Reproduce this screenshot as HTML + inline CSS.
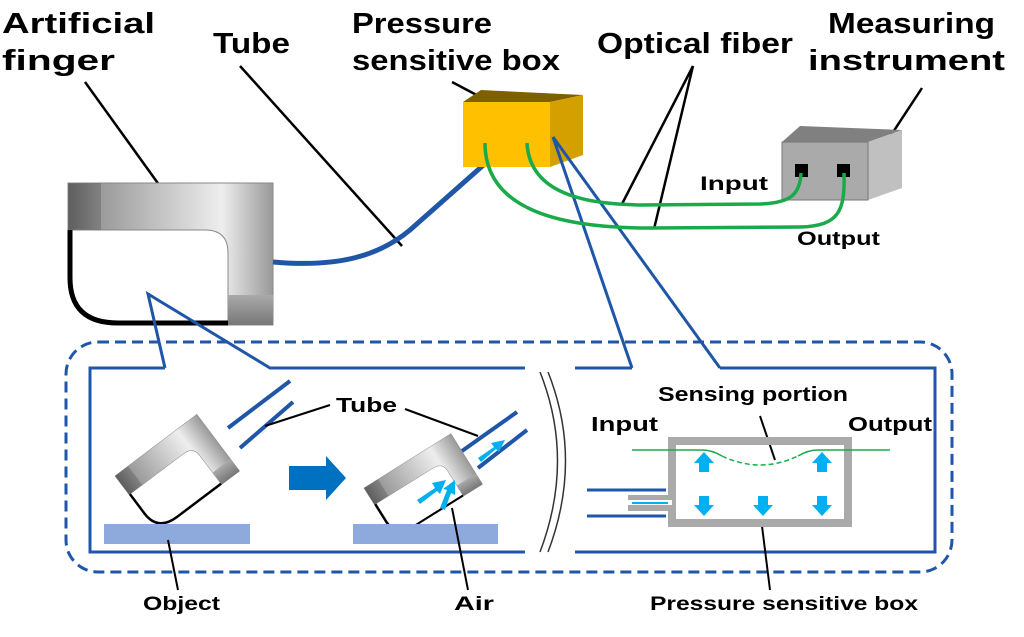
<!DOCTYPE html>
<html><head><style>
body{margin:0;background:#fff}
text{font-family:"Liberation Sans",sans-serif;font-weight:bold;fill:#000}
</style></head><body>
<svg width="1024" height="632" viewBox="0 0 1024 632" xmlns="http://www.w3.org/2000/svg">
<defs>
<linearGradient id="g1" x1="0" y1="0" x2="1" y2="0">
<stop offset="0" stop-color="#555"/><stop offset="0.15" stop-color="#999"/><stop offset="0.75" stop-color="#eee"/><stop offset="1" stop-color="#999"/></linearGradient>
<linearGradient id="g2" x1="0" y1="0" x2="0" y2="1">
<stop offset="0" stop-color="#aaa"/><stop offset="1" stop-color="#777"/></linearGradient>
<g id="finger">
<path d="M0,0 H205 V142 H160 V70 Q160,47 137,47 H0 Z" fill="url(#g1)" stroke="#888" stroke-width="1"/>
<rect x="0" y="0" width="33" height="47" fill="#666" opacity="0.5"/>
<rect x="160" y="112" width="45" height="30" fill="url(#g2)"/>
<path d="M2,47 V95 Q2,140 50,140 H160" fill="none" stroke="#000" stroke-width="5"/>
</g>
</defs>

<!-- labels top -->
<g font-size="29" lengthAdjust="spacingAndGlyphs">
<text x="2" y="33" textLength="153" lengthAdjust="spacingAndGlyphs">Artificial</text>
<text x="2" y="70" textLength="113" lengthAdjust="spacingAndGlyphs">finger</text>
<text x="213" y="53" textLength="77" lengthAdjust="spacingAndGlyphs">Tube</text>
<text x="352" y="33" textLength="140" lengthAdjust="spacingAndGlyphs">Pressure</text>
<text x="352" y="70" textLength="208" lengthAdjust="spacingAndGlyphs">sensitive box</text>
<text x="597" y="53" textLength="196" lengthAdjust="spacingAndGlyphs">Optical fiber</text>
<text x="828" y="33" textLength="167" lengthAdjust="spacingAndGlyphs">Measuring</text>
<text x="808" y="70" textLength="197" lengthAdjust="spacingAndGlyphs">instrument</text>
</g>

<g stroke="#000" stroke-width="2.5">
<line x1="85" y1="82" x2="170" y2="200"/>
<line x1="240" y1="66" x2="402" y2="246"/>
<line x1="452" y1="82" x2="505" y2="110"/>
<line x1="693" y1="66" x2="622" y2="204"/>
<line x1="693" y1="66" x2="654" y2="229"/>
<line x1="922" y1="88" x2="878" y2="155"/>
</g>

<use href="#finger" x="68" y="183"/>

<path d="M273,262 C340,268 380,255 410,230 L505,146" fill="none" stroke="#1f56a8" stroke-width="5"/>

<polygon points="463,102 481,90 583,95 550,102" fill="#7f6000"/>
<polygon points="550,102 583,95 583,155 550,167" fill="#d4a000"/>
<rect x="463" y="102" width="87" height="65" fill="#ffc000"/>

<path d="M553,137 L632,368" stroke="#1f56a8" stroke-width="3" fill="none"/>
<path d="M553,137 L720,368" stroke="#1f56a8" stroke-width="3" fill="none"/>

<polygon points="782,142 800,126 902,130 868,142" fill="#808080"/>
<polygon points="868,142 902,130 902,188 868,200" fill="#c0c0c0"/>
<rect x="782" y="142" width="86" height="58" fill="#aaa" stroke="#777"/>
<rect x="795" y="164" width="13" height="13" fill="#000"/>
<rect x="837" y="164" width="13" height="13" fill="#000"/>

<path d="M527,143 C530,200 600,204 640,205 L760,204 C790,203 800,195 801,173" fill="none" stroke="#1aaa4a" stroke-width="3.5"/>
<path d="M485,143 C485,210 560,228 650,228 L800,227 C840,226 845,210 844,173" fill="none" stroke="#1aaa4a" stroke-width="3.5"/>
<text x="700" y="190" font-size="19" textLength="68" lengthAdjust="spacingAndGlyphs">Input</text>
<text x="797" y="245" font-size="19" textLength="83" lengthAdjust="spacingAndGlyphs">Output</text>

<rect x="66" y="342" width="886" height="230" rx="32" fill="none" stroke="#1f56a8" stroke-width="3" stroke-dasharray="11,6"/>
<g stroke="#1f56a8" stroke-width="3" fill="none">
<polyline points="165,368 90,368 90,552 525,552"/>
<polyline points="165,368 148,294 270,368 525,368"/>
<polyline points="632,368 575,368"/>
<polyline points="720,368 935,368 935,552 575,552"/>
</g>
<path d="M540,372 Q575,460 540,552" stroke="#333" stroke-width="1.5" fill="none"/>
<path d="M548,372 Q583,460 548,552" stroke="#333" stroke-width="1.5" fill="none"/>

<g stroke="#1f56a8" stroke-width="4">
<line x1="228" y1="428" x2="290" y2="381"/>
<line x1="240" y1="448" x2="293" y2="402"/>
<line x1="462" y1="451" x2="517" y2="412"/>
<line x1="478" y1="468" x2="527" y2="430"/>
</g>
<use href="#finger" transform="translate(115,476) rotate(-37) scale(0.5)"/>
<use href="#finger" transform="translate(364,488) rotate(-32) scale(0.5,0.42)"/>
<rect x="104" y="524" width="146" height="20" fill="#8ea9db"/>
<rect x="353" y="524" width="145" height="20" fill="#8ea9db"/>
<polygon points="289,466 326,466 326,456 346,478 326,500 326,490 289,490" fill="#0070c0"/>
<g fill="#00b0f0">
<polygon points="478,458 494,447 491,443 505,440 499,452 496,449 481,462"/>
<polygon points="417,500 435,488 432,483 446,480 440,494 437,491 420,504"/>
<polygon points="440,508 447,490 443,489 455,480 455,495 451,493 445,510"/>
</g>
<text x="336" y="412" font-size="20" textLength="61" lengthAdjust="spacingAndGlyphs">Tube</text>
<g stroke="#000" stroke-width="2">
<line x1="330" y1="405" x2="265" y2="426"/>
<line x1="405" y1="409" x2="478" y2="436"/>
<line x1="168" y1="540" x2="178" y2="590"/>
<line x1="452" y1="508" x2="468" y2="590"/>
<line x1="762" y1="526" x2="770" y2="590"/>
<line x1="760" y1="416" x2="775" y2="460"/>
</g>
<text x="143" y="610" font-size="19" textLength="77" lengthAdjust="spacingAndGlyphs">Object</text>
<text x="454" y="610" font-size="19" textLength="40" lengthAdjust="spacingAndGlyphs">Air</text>
<text x="650" y="610" font-size="19" textLength="268" lengthAdjust="spacingAndGlyphs">Pressure sensitive box</text>

<text x="658" y="401" font-size="20" textLength="190" lengthAdjust="spacingAndGlyphs">Sensing portion</text>
<text x="591" y="431" font-size="20" textLength="67" lengthAdjust="spacingAndGlyphs">Input</text>
<text x="848" y="431" font-size="20" textLength="84" lengthAdjust="spacingAndGlyphs">Output</text>
<rect x="672" y="441" width="176" height="82" fill="none" stroke="#aaa" stroke-width="8"/>
<path d="M632,450 L702,450 Q712,450 722,456" stroke="#1aaa4a" stroke-width="1.5" fill="none"/>
<path d="M722,456 Q760,474 798,456" stroke="#1aaa4a" stroke-width="1.5" fill="none" stroke-dasharray="5,3"/>
<path d="M798,456 Q808,450 818,450 L890,450" stroke="#1aaa4a" stroke-width="1.5" fill="none"/>
<line x1="587" y1="490" x2="666" y2="490" stroke="#1f56a8" stroke-width="3"/>
<line x1="587" y1="516" x2="666" y2="516" stroke="#1f56a8" stroke-width="3"/>
<rect x="628" y="495" width="42" height="16" fill="#aaa"/>
<rect x="628" y="500" width="44" height="5" fill="#fff"/>
<line x1="632" y1="503" x2="668" y2="503" stroke="#00b0f0" stroke-width="2"/>
<g fill="#00b0f0">
<polygon points="704,452 694,463 699,463 699,472 709,472 709,463 714,463"/>
<polygon points="822,452 812,463 817,463 817,472 827,472 827,463 832,463"/>
<polygon points="704,516 694,505 699,505 699,496 709,496 709,505 714,505"/>
<polygon points="763,516 753,505 758,505 758,496 768,496 768,505 773,505"/>
<polygon points="822,516 812,505 817,505 817,496 827,496 827,505 832,505"/>
</g>
</svg>
</body></html>
